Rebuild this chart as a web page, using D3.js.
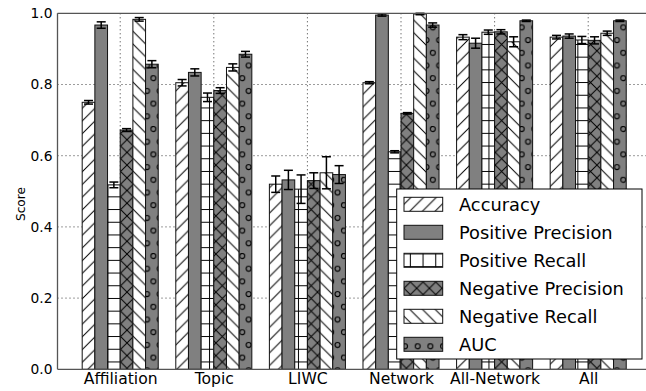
<!DOCTYPE html>
<html>
<head>
<meta charset="utf-8">
<script src="https://cdn.jsdelivr.net/npm/d3@7"></script>
<style>
  body { margin: 0; background: #fff; }
  svg { display: block; font-family: "DejaVu Sans", sans-serif; }
</style>
</head>
<body>
<div id="chart"></div>
<script>
const groups = ["Affiliation", "Topic", "LIWC", "Network", "All-Network", "All"]
const seriesNames = ["Accuracy", "Positive Precision", "Positive Recall", "Negative Precision", "Negative Recall", "AUC"]

// mean scores per group (same order as groups)
const accuracy = [0.750, 0.805, 0.520, 0.805, 0.933, 0.933]
const posPrecision = [0.967, 0.834, 0.532, 0.995, 0.916, 0.936]
const posRecall = [0.518, 0.764, 0.506, 0.611, 0.947, 0.925]
const negPrecision = [0.672, 0.783, 0.530, 0.719, 0.948, 0.924]
const negRecall = [0.983, 0.848, 0.552, 0.998, 0.920, 0.944]
const auc = [0.857, 0.885, 0.547, 0.967, 0.979, 0.979]

// error bar half-widths
const accuracyErr = [0.005, 0.009, 0.023, 0.003, 0.007, 0.005]
const posPrecisionErr = [0.009, 0.010, 0.027, 0.003, 0.014, 0.006]
const posRecallErr = [0.008, 0.012, 0.040, 0.003, 0.006, 0.010]
const negPrecisionErr = [0.004, 0.008, 0.022, 0.002, 0.006, 0.010]
const negRecallErr = [0.005, 0.010, 0.045, 0.002, 0.014, 0.006]
const aucErr = [0.010, 0.008, 0.025, 0.006, 0.002, 0.002]

const yTicks = [0.0, 0.2, 0.4, 0.6, 0.8, 1.0]

const seriesValues = [accuracy, posPrecision, posRecall, negPrecision, negRecall, auc]
const seriesErrors = [accuracyErr, posPrecisionErr, posRecallErr, negPrecisionErr, negRecallErr, aucErr]
const fills = ["white", "#808080", "white", "#808080", "white", "#808080"]
const hatchIds = ["h-diag", null, "h-grid", "h-cross", "h-back", "h-dots"]

const width = 646
const height = 391
const plot = { left: 57.5, top: 13.3, bottom: 369.3, right: 645.3 }
const barWidth = 0.1354

const svg = d3.select("#chart").append("svg").attr("width", width).attr("height", height)

// hatch patterns
const defs = svg.append("defs")
const t = 12.7
function pattern(id, w, h) {
  return defs.append("pattern").attr("id", id).attr("patternUnits", "userSpaceOnUse")
    .attr("width", w).attr("height", h)
}
pattern("h-diag", t, t).append("path")
  .attr("d", `M${-t / 2},${t / 2}L${t / 2},${-t / 2}M0,${t}L${t},0M${t / 2},${t * 1.5}L${t * 1.5},${t / 2}`)
  .attr("stroke", "black").attr("stroke-width", 1)
pattern("h-back", t, t).append("path")
  .attr("d", `M${-t / 2},${t / 2}L${t / 2},${t * 1.5}M0,0L${t},${t}M${t / 2},${-t / 2}L${t * 1.5},${t / 2}`)
  .attr("stroke", "black").attr("stroke-width", 1)
pattern("h-cross", t, t).append("path")
  .attr("d", `M0,${t}L${t},0M0,0L${t},${t}`)
  .attr("stroke", "black").attr("stroke-width", 1)
pattern("h-grid", t, t).append("path")
  .attr("d", `M${t / 2},0V${t}M0,${t / 2}H${t}`)
  .attr("stroke", "black").attr("stroke-width", 1)
const dots = pattern("h-dots", t, 2 * t)
dots.selectAll("circle")
  .data([[1, 2], [1 + t / 2, 2 + t], [1 + t, 2], [1, 2 + 2 * t], [1 + t, 2 + 2 * t]])
  .enter().append("circle")
  .attr("cx", (d) => d[0]).attr("cy", (d) => d[1]).attr("r", 2.5)
  .attr("fill", "none").attr("stroke", "black").attr("stroke-width", 1.1)

// scales
const xScale = d3.scaleLinear().domain([-0.67, 5.61]).range([plot.left, plot.right])
const yScale = d3.scaleLinear().domain([0, 1]).range([plot.bottom, plot.top])

// grid
const grid = svg.append("g").attr("stroke", "#222").attr("stroke-width", 0.9).attr("stroke-dasharray", "1,3")
grid.selectAll("line.h").data(yTicks.slice(1, -1)).enter().append("line")
  .attr("x1", plot.left).attr("x2", width)
  .attr("y1", (d) => yScale(d)).attr("y2", (d) => yScale(d))
grid.selectAll("line.v").data(groups).enter().append("line")
  .attr("x1", (d, i) => xScale(i)).attr("x2", (d, i) => xScale(i))
  .attr("y1", plot.top).attr("y2", plot.bottom)

// bars
seriesValues.forEach((values, s) => {
  const g = svg.append("g")
  const x0 = (i) => xScale(i + (s - 3) * barWidth)
  const w = xScale(barWidth) - xScale(0)
  g.selectAll("rect.bg").data(values).enter().append("rect")
    .attr("x", (d, i) => x0(i)).attr("y", (d) => yScale(d))
    .attr("width", w).attr("height", (d) => yScale(0) - yScale(d))
    .attr("fill", fills[s])
  if (hatchIds[s]) {
    g.selectAll("rect.h").data(values).enter().append("rect")
      .attr("x", (d, i) => x0(i)).attr("y", (d) => yScale(d))
      .attr("width", w).attr("height", (d) => yScale(0) - yScale(d))
      .attr("fill", `url(#${hatchIds[s]})`)
  }
  g.selectAll("rect.o").data(values).enter().append("rect")
    .attr("x", (d, i) => x0(i)).attr("y", (d) => yScale(d))
    .attr("width", w).attr("height", (d) => yScale(0) - yScale(d))
    .attr("fill", "none").attr("stroke", "#111").attr("stroke-width", 1)

  // error bars
  const errs = seriesErrors[s]
  const cx = (i) => x0(i) + w / 2
  const eb = g.append("g").attr("stroke", "black").attr("stroke-width", 1.5)
  eb.selectAll("line.v").data(values).enter().append("line")
    .attr("x1", (d, i) => cx(i)).attr("x2", (d, i) => cx(i))
    .attr("y1", (d, i) => yScale(d - errs[i])).attr("y2", (d, i) => yScale(d + errs[i]))
  ;[-1, 1].forEach((sign) => {
    eb.selectAll(null).data(values).enter().append("line")
      .attr("x1", (d, i) => cx(i) - 4.5).attr("x2", (d, i) => cx(i) + 4.5)
      .attr("y1", (d, i) => yScale(d + sign * errs[i])).attr("y2", (d, i) => yScale(d + sign * errs[i]))
  })
})

// spines
const spine = svg.append("g").attr("stroke", "#555").attr("stroke-width", 1.3)
spine.append("line").attr("x1", plot.left).attr("x2", plot.left).attr("y1", plot.top).attr("y2", plot.bottom)
spine.append("line").attr("x1", plot.left).attr("x2", width).attr("y1", plot.bottom).attr("y2", plot.bottom)
spine.append("line").attr("x1", plot.left).attr("x2", width).attr("y1", plot.top).attr("y2", plot.top)

// axes
const yAxis = d3.axisLeft(yScale).tickValues(yTicks).tickFormat(d3.format(".1f")).tickSize(0).tickPadding(5)
svg.append("g").attr("transform", `translate(${plot.left},0)`).call(yAxis)
  .call((g) => g.select(".domain").remove())
  .selectAll("text").attr("font-size", 13.8).attr("fill", "black")
  .attr("font-family", "DejaVu Sans")

const xAxis = d3.axisBottom(xScale).tickValues(d3.range(groups.length)).tickFormat((i) => groups[i]).tickSize(0).tickPadding(4)
svg.append("g").attr("transform", `translate(0,${plot.bottom})`).call(xAxis)
  .call((g) => g.select(".domain").remove())
  .selectAll("text").attr("font-size", 15.6).attr("fill", "black")
  .attr("font-family", "DejaVu Sans")

svg.append("text")
  .attr("transform", `translate(25,204) rotate(-90)`)
  .attr("text-anchor", "middle").attr("font-size", 12.2).text("Score")

// legend
const legend = svg.append("g")
legend.append("rect").attr("x", 396.7).attr("y", 189).attr("width", 245.3).attr("height", 170)
  .attr("fill", "white").attr("stroke", "black").attr("stroke-width", 1)
const rows = legend.selectAll("g.row").data(seriesNames).enter().append("g")
  .attr("transform", (d, i) => `translate(404,${204.3 + 28 * i})`)
rows.append("rect").attr("x", 0).attr("y", -7).attr("width", 38.7).attr("height", 14)
  .attr("fill", (d, i) => fills[i])
rows.filter((d, i) => hatchIds[i]).append("rect").attr("x", 0).attr("y", -7).attr("width", 38.7).attr("height", 14)
  .attr("fill", (d) => `url(#${hatchIds[seriesNames.indexOf(d)]})`)
rows.append("rect").attr("x", 0).attr("y", -7).attr("width", 38.7).attr("height", 14)
  .attr("fill", "none").attr("stroke", "#111").attr("stroke-width", 1)
rows.append("text").attr("x", 55).attr("y", 0).attr("dy", "0.36em")
  .attr("font-size", 17.8).text((d) => d)
</script>
</body>
</html>
